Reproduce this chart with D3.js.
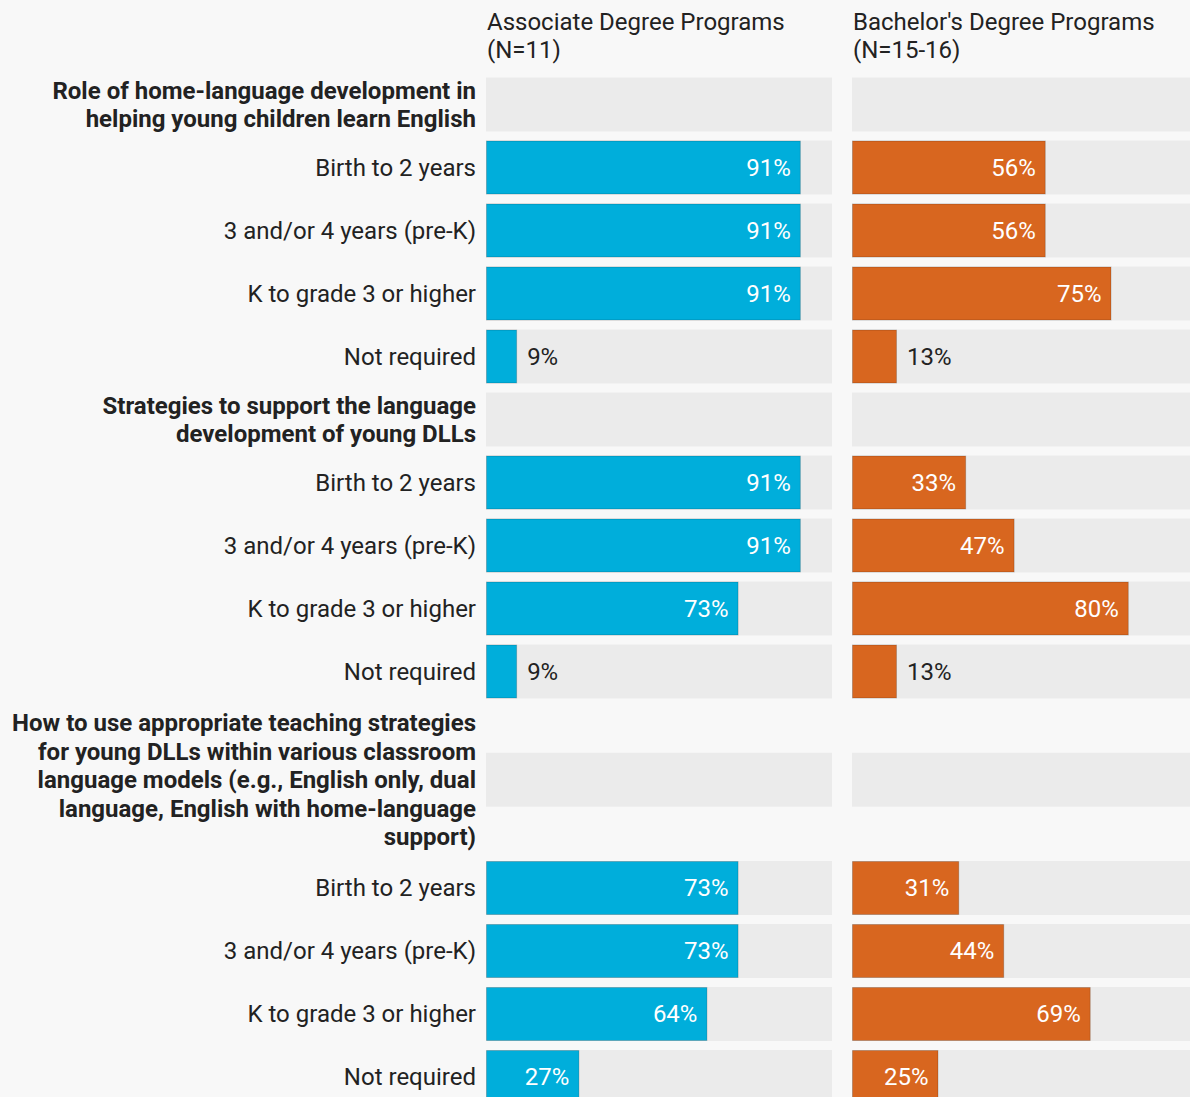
<!DOCTYPE html>
<html>
<head>
<meta charset="utf-8">
<script src="https://cdnjs.cloudflare.com/ajax/libs/d3/7.8.5/d3.min.js"></script>
<style>
  html, body { margin: 0; padding: 0; background: #f8f8f8; }
  svg { display: block; font-family: Roboto, "Noto Sans", sans-serif; }
</style>
</head>
<body>
<svg id="chart" width="1190" height="1097"></svg>
<script>
// Column headers
const columns = [
  ["Associate Degree Programs", "(N=11)"],
  ["Bachelor's Degree Programs", "(N=15-16)"]
];

// Topic headings (pre-wrapped lines)
const topics = [
  ["Role of home-language development in", "helping young children learn English"],
  ["Strategies to support the language", "development of young DLLs"],
  ["How to use appropriate teaching strategies", "for young DLLs within various classroom",
   "language models (e.g., English only, dual", "language, English with home-language", "support)"]
];

// Age-level categories within each topic
const ages = ["Birth to 2 years", "3 and/or 4 years (pre-K)", "K to grade 3 or higher", "Not required"];

// Percent of programs, one array per topic
const associate = [
  [91, 91, 91, 9],
  [91, 91, 73, 9],
  [73, 73, 64, 27]
];
const bachelor = [
  [56, 56, 75, 13],
  [33, 47, 80, 13],
  [31, 44, 69, 25]
];

const colors = ["#00aedb", "#d8661f"];

// Build row list: a heading row followed by one row per age level
const rows = [];
topics.forEach((lines, t) => {
  rows.push({ type: "head", lines, values: null });
  ages.forEach((a, i) => rows.push({ type: "item", lines: [a], values: [associate[t][i], bachelor[t][i]] }));
});

const svg = d3.select("#chart");
const labelRight = 476;
const panelX = [486, 852];
const panelW = 346;
const pitch = 63, barH = 54, lineH = 28.5;
const fs = 24;

// Rows keep a fixed pitch unless a long heading needs more room
let y = 73;
rows.forEach(r => {
  const h = r.lines.length > 2 ? r.lines.length * lineH + 11 : pitch;
  r.cy = y + h / 2;
  y += h;
});

const x = d3.scaleLinear().domain([0, 100]).range([0, panelW]);

// Column headers
columns.forEach((lines, c) => {
  const t = svg.append("text")
    .attr("x", panelX[c] + 1).attr("y", 30)
    .attr("font-size", fs).attr("fill", "#222");
  lines.forEach((l, i) => t.append("tspan").attr("x", panelX[c] + 1).attr("dy", i === 0 ? 0 : 28.3).text(l));
});

const g = svg.selectAll("g.row").data(rows).join("g").attr("class", "row");

// Row labels
g.each(function(r) {
  const sel = d3.select(this);
  const n = r.lines.length;
  const lh = n > 2 ? lineH : 28;
  const t = sel.append("text")
    .attr("text-anchor", "end")
    .attr("font-size", fs)
    .attr("font-weight", r.type === "head" ? 700 : 400)
    .attr("fill", "#222");
  r.lines.forEach((l, i) => {
    t.append("tspan")
      .attr("x", labelRight)
      .attr("y", r.cy + (i - (n - 1) / 2) * lh)
      .attr("dy", "0.35em")
      .text(l);
  });
});

// Background tracks, bars and value labels
[0, 1].forEach(c => {
  g.append("rect")
    .attr("x", panelX[c])
    .attr("y", r => r.cy - barH / 2)
    .attr("width", panelW)
    .attr("height", barH)
    .attr("fill", "#ebebeb");

  const items = g.filter(r => r.type === "item");
  items.append("rect")
    .attr("x", panelX[c] + 0.5)
    .attr("y", r => r.cy - barH / 2 + 0.5)
    .attr("width", r => x(r.values[c]) - 1)
    .attr("height", barH - 1)
    .attr("fill", colors[c])
    .attr("stroke", "rgba(0,0,0,0.18)")
    .attr("stroke-width", 1);

  items.append("text")
    .attr("font-size", fs)
    .attr("dy", "0.35em")
    .attr("y", r => r.cy)
    .each(function(r) {
      const v = r.values[c];
      const w = x(v);
      const inside = w > 70;
      d3.select(this)
        .attr("x", inside ? panelX[c] + w - 10 : panelX[c] + w + 10)
        .attr("text-anchor", inside ? "end" : "start")
        .attr("fill", inside ? "#fff" : "#222")
        .text(v + "%");
    });
});
</script>
</body>
</html>
